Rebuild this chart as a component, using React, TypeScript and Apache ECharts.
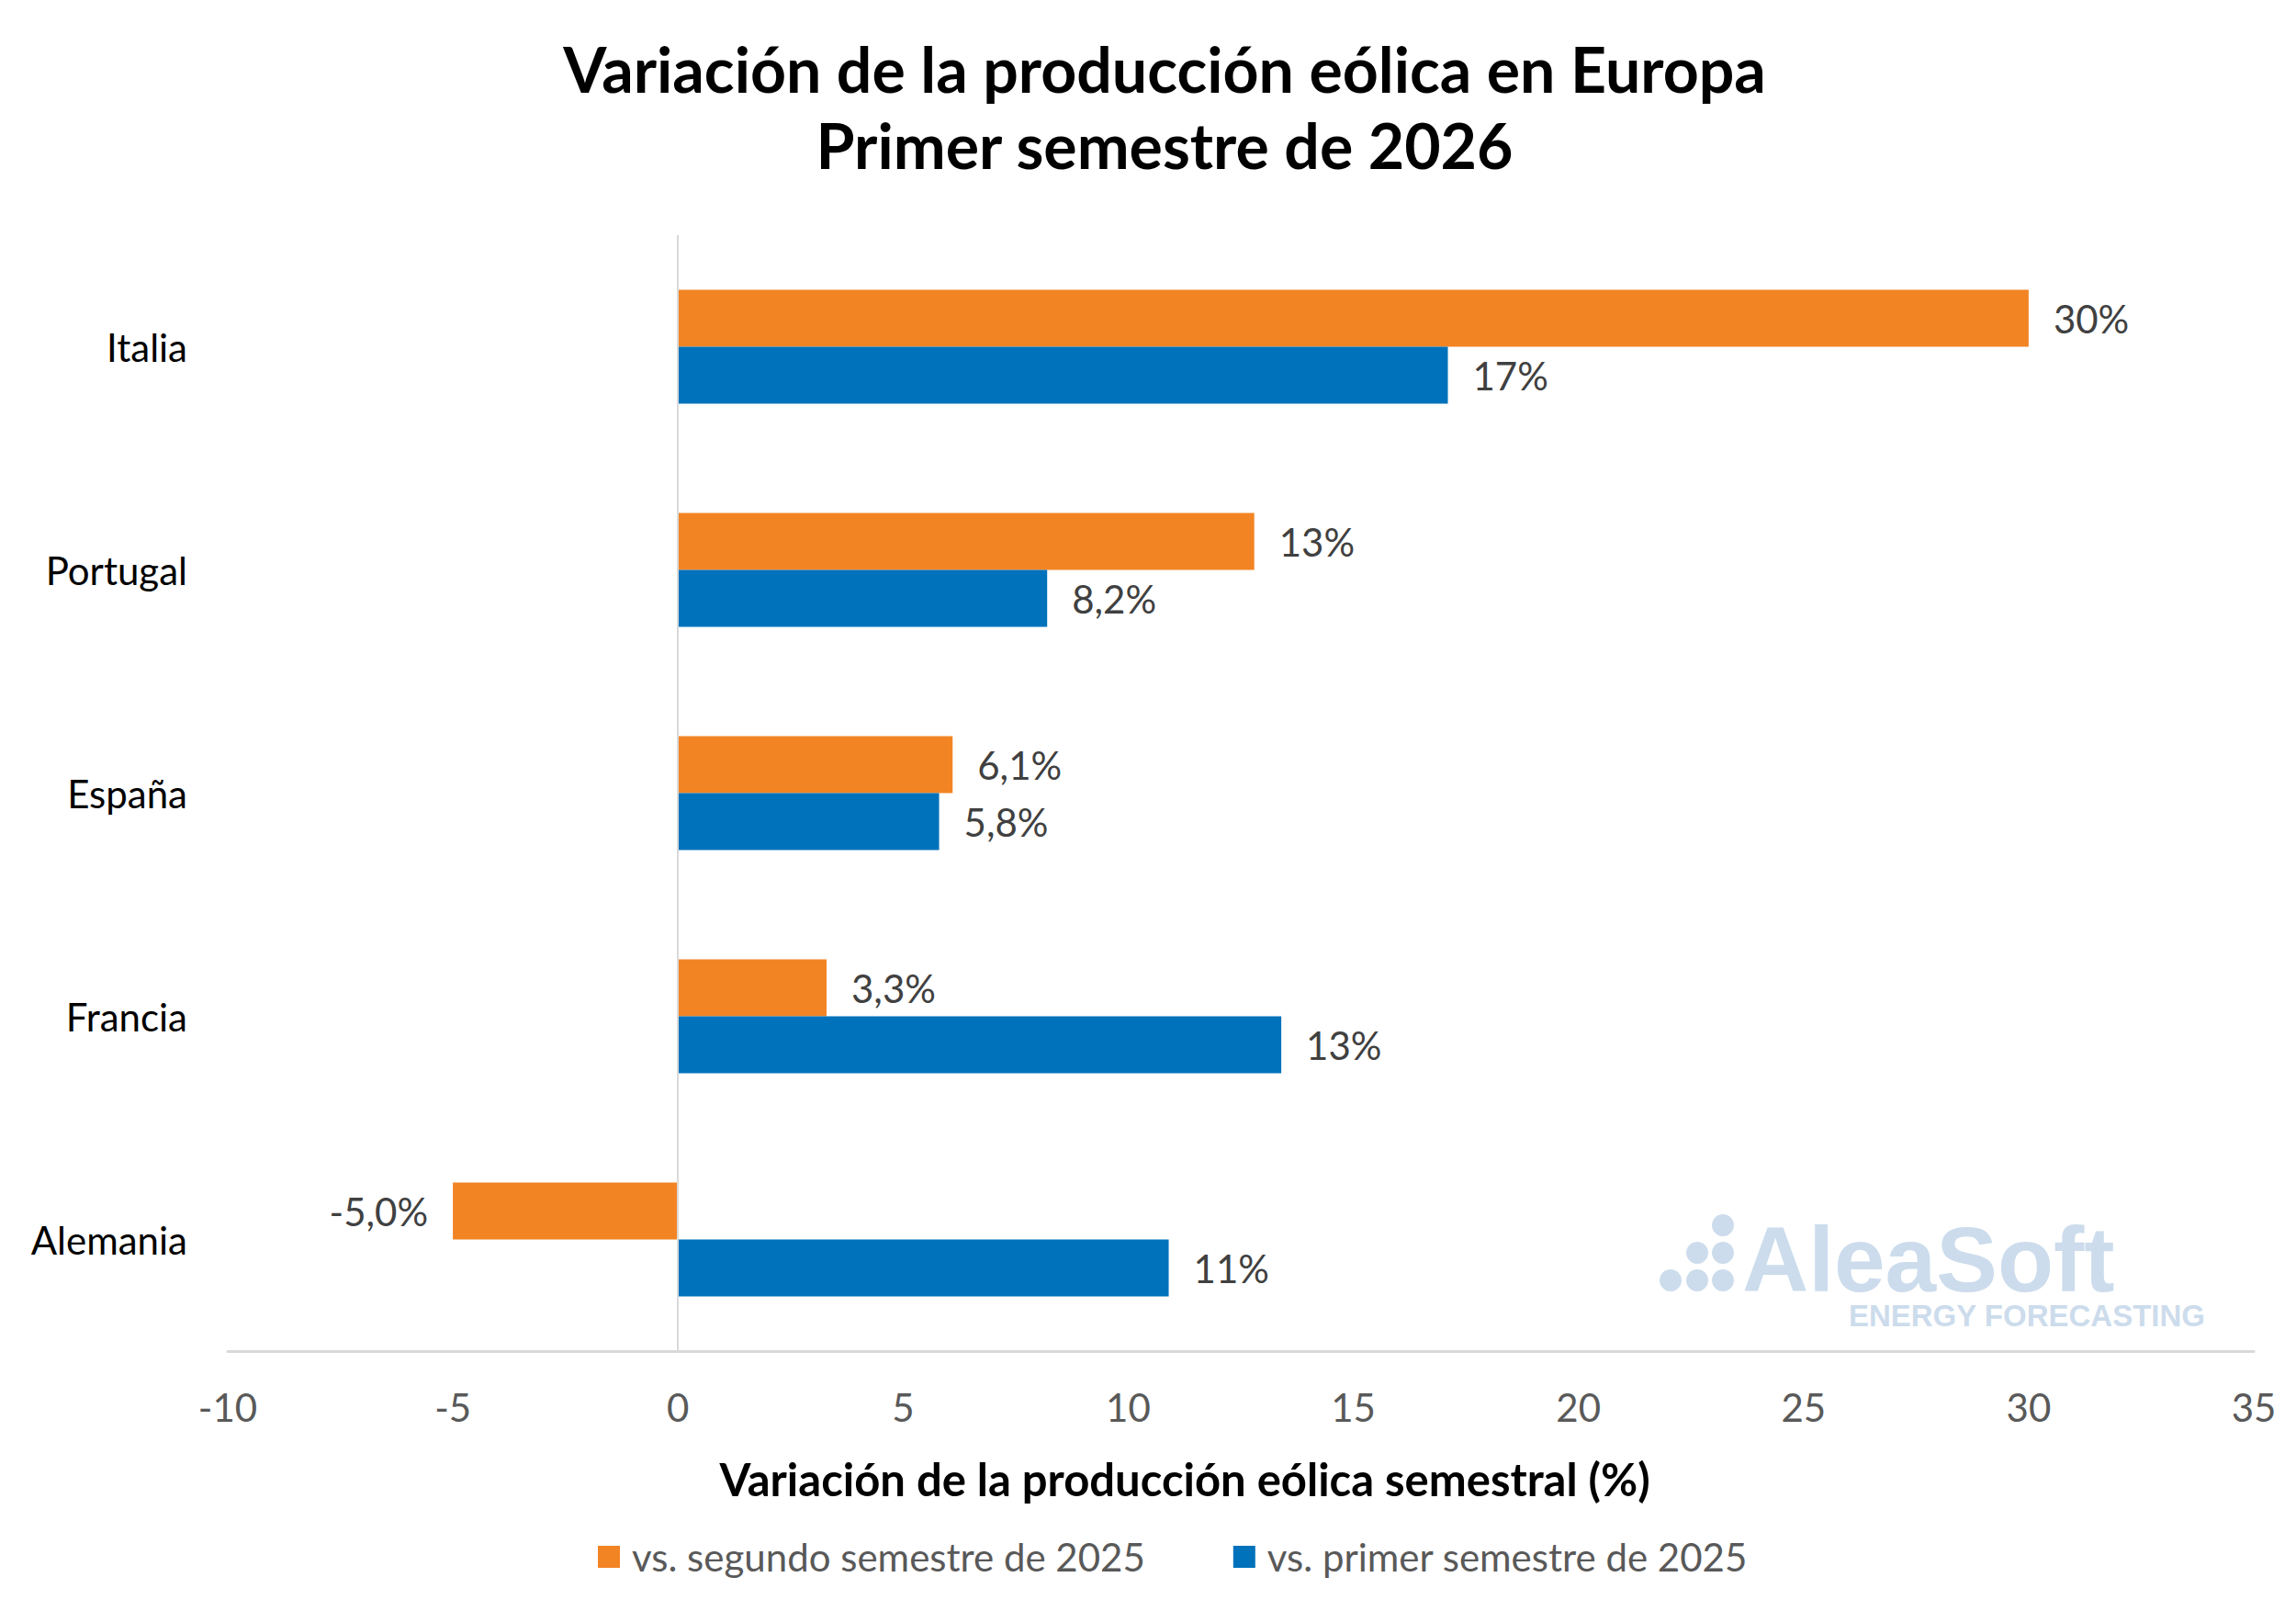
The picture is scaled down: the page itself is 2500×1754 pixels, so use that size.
import React, { useEffect, useRef } from 'react';
import * as echarts from 'echarts';

const countries = ['Italia', 'Portugal', 'España', 'Francia', 'Alemania'];
const vsSecondHalf2025 = [30.0, 12.8, 6.1, 3.3, -5.0];
const vsFirstHalf2025 = [17.1, 8.2, 5.8, 13.4, 10.9];
const seriesNames = ['vs. segundo semestre de 2025', 'vs. primer semestre de 2025'];

const FONT = 'Lato';
const ORANGE = '#F28424';
const BLUE = '#0072BB';
const MARK = '#CCDCEC';

const fmt = (v: number) =>
  Math.abs(v) >= 10 ? `${Math.round(v)}%` : `${v.toFixed(1).replace('.', ',')}%`;

const App: React.FC = () => {
  const chartRef = useRef<HTMLDivElement>(null);

  useEffect(() => {
    document.body.style.margin = '0';
    if (!chartRef.current) return undefined;
    const chart = echarts.init(chartRef.current, undefined, { renderer: 'svg' });

    const barLabel = {
      show: true,
      position: 'right',
      distance: 27,
      color: '#404040',
      fontFamily: FONT,
      fontSize: 42,
      formatter: (p: any) => fmt(p.value),
    };

    // negative bars get their label on the left side
    const toData = (arr: number[]) =>
      arr.map((v) => (v < 0 ? { value: v, label: { position: 'left' } } : v));

    chart.setOption({
      animation: false,
      textStyle: { fontFamily: FONT },
      title: [
        {
          text: 'Variación de la producción eólica en Europa\nPrimer semestre de 2026',
          left: 1263,
          top: 28,
          textAlign: 'center',
          textStyle: { fontFamily: FONT, fontSize: 68, fontWeight: 'bold', color: '#000', lineHeight: 83 },
        },
        {
          text: 'Variación de la producción eólica semestral (%)',
          left: 1285,
          top: 1580,
          textAlign: 'center',
          textStyle: { fontFamily: FONT, fontSize: 49, fontWeight: 'bold', color: '#000' },
        },
      ],
      legend: {
        bottom: 33,
        left: 646,
        icon: 'rect',
        itemWidth: 24,
        itemHeight: 24,
        itemGap: 96,
        textStyle: { fontFamily: FONT, fontSize: 42, color: '#595959', padding: [0, 0, 0, 8] },
        data: seriesNames,
      },
      grid: { left: 248, right: 46, top: 256, bottom: 283, containLabel: false },
      xAxis: {
        type: 'value',
        min: -10,
        max: 35,
        interval: 5,
        axisLine: { show: true, onZero: false, lineStyle: { color: '#D9D9D9', width: 3 } },
        axisTick: { show: false },
        splitLine: { show: false },
        axisLabel: { fontFamily: FONT, fontSize: 42, color: '#595959', margin: 40 },
      },
      yAxis: {
        type: 'category',
        inverse: true,
        data: countries,
        axisLine: { show: false, onZero: false },
        axisTick: { show: false },
        axisLabel: { fontFamily: FONT, fontSize: 42, color: '#000', margin: 44 },
      },
      series: [
        {
          name: seriesNames[0],
          type: 'bar',
          data: toData(vsSecondHalf2025),
          barWidth: 62,
          barGap: '0%',
          itemStyle: { color: ORANGE },
          label: barLabel,
          markLine: {
            silent: true,
            symbol: 'none',
            label: { show: false },
            lineStyle: { color: '#D9D9D9', width: 2, type: 'solid' },
            data: [{ xAxis: 0 }],
          },
        },
        {
          name: seriesNames[1],
          type: 'bar',
          data: toData(vsFirstHalf2025),
          barWidth: 62,
          barGap: '0%',
          itemStyle: { color: BLUE },
          label: barLabel,
        },
      ],
      graphic: [
        { type: 'circle', shape: { cx: 1819, cy: 1394, r: 12 }, style: { fill: MARK } },
        { type: 'circle', shape: { cx: 1848, cy: 1394, r: 12 }, style: { fill: MARK } },
        { type: 'circle', shape: { cx: 1848, cy: 1364, r: 12 }, style: { fill: MARK } },
        { type: 'circle', shape: { cx: 1876, cy: 1394, r: 12 }, style: { fill: MARK } },
        { type: 'circle', shape: { cx: 1876, cy: 1364, r: 12 }, style: { fill: MARK } },
        { type: 'circle', shape: { cx: 1876, cy: 1334, r: 12 }, style: { fill: MARK } },
        {
          type: 'text',
          x: 1897,
          y: 1371,
          style: {
            text: 'AleaSoft',
            font: 'bold 100px "Liberation Sans"',
            lineHeight: 76,
            fill: MARK,
            textAlign: 'left',
            textVerticalAlign: 'middle',
          },
        },
        {
          type: 'text',
          x: 2401,
          y: 1432,
          style: {
            text: 'ENERGY FORECASTING',
            font: 'bold 33px "Liberation Sans"',
            lineHeight: 26,
            fill: MARK,
            textAlign: 'right',
            textVerticalAlign: 'middle',
          },
        },
      ],
    });

    return () => {
      chart.dispose();
    };
  }, []);

  return (
    <div
      ref={chartRef}
      style={{ position: 'absolute', left: 0, top: 0, width: 2500, height: 1754, background: '#fff' }}
    />
  );
};

export default App;
